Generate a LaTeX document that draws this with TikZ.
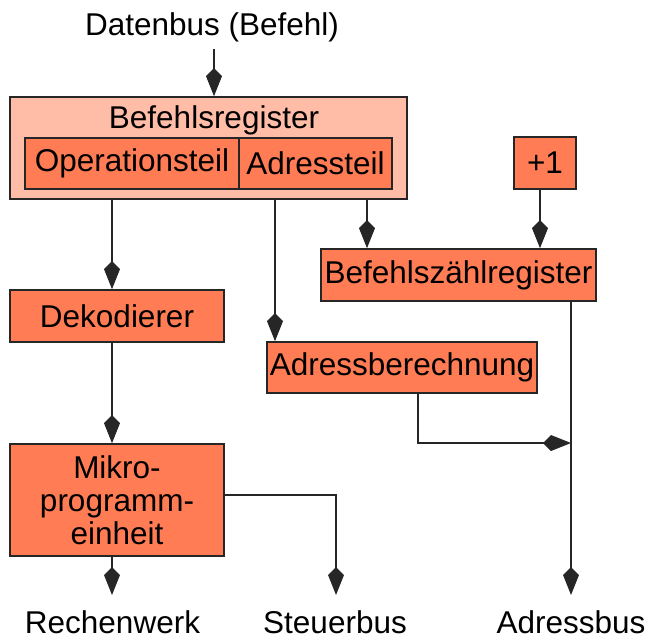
\documentclass[tikz,border=0pt]{standalone}
\usepackage{fontspec}
\setmainfont{Liberation Sans}
\usetikzlibrary{arrows.meta}
\definecolor{boxdark}{RGB}{255,124,84}
\definecolor{boxlight}{RGB}{255,188,166}
\tikzset{
  every node/.style={font=\fontsize{31.5}{33}\selectfont, inner sep=0pt},
  box/.style={draw=black!85, line width=1.6pt, fill=boxdark, rectangle, align=center},
  outerbox/.style={draw=black!85, line width=1.6pt, fill=boxlight, rectangle},
  label text/.style={anchor=base},
  conn/.style={draw=black!85, line width=1.6pt},
  kitearrow/.style={conn, -{Kite[length=28pt,width=16pt,inset=8pt]}}
}
\begin{document}
\begin{tikzpicture}[x=1pt,y=-1pt]
\useasboundingbox (0,0) rectangle (647,638);
% labels
\node[label text] (db) at (212,35) {Datenbus (Befehl)};
\node[label text] (rw) at (112.5,633) {Rechenwerk};
\node[label text] (sb) at (335,633) {Steuerbus};
\node[label text] (ab) at (571,633) {Adressbus};
% boxes
\node[outerbox, minimum width=397pt, minimum height=102pt] (br) at (208.5,148) {};
\node[label text] (brtitle) at (214,128) {Befehlsregister};
\node[box, minimum width=214pt, minimum height=51pt] (op) at (132,163.5) {Operationsteil};
\node[box, minimum width=153pt, minimum height=51pt] (adr) at (315.5,163.5) {Adressteil};
\node[box, minimum width=62pt, minimum height=52pt] (p1) at (545,163) {+1};
\node[box, minimum width=275pt, minimum height=52pt] (bzr) at (458.5,275) {Befehlszählregister};
\node[box, minimum width=214pt, minimum height=52pt] (dek) at (117,316) {Dekodierer};
\node[box, minimum width=270pt, minimum height=51pt] (adb) at (402,367.5) {Adressberechnung};
\node[box, minimum width=214pt, minimum height=112pt] (mpe) at (117,500) {Mikro-\\programm-\\einheit};
% connector ends
\coordinate (dbout) at (214,49);
\coordinate (rwin) at (112,595);
\coordinate (sbin) at (336,595);
\coordinate (abin) at (571,595);
\coordinate (join) at (571,443);
% connectors
\draw[kitearrow] (dbout) -- (dbout |- br.north);
\draw[kitearrow] (112,0 |- br.south) -- (112,0 |- dek.north);
\draw[kitearrow] (275,0 |- br.south) -- (275,0 |- adb.north);
\draw[kitearrow] (367,0 |- br.south) -- (367,0 |- bzr.north);
\draw[kitearrow] (540,0 |- p1.south) -- (540,0 |- bzr.north);
\draw[kitearrow] (571,0 |- bzr.south) -- (abin);
\draw[kitearrow] (418,0 |- adb.south) |- (join);
\draw[kitearrow] (112,0 |- dek.south) -- (112,0 |- mpe.north);
\draw[kitearrow] (112,0 |- mpe.south) -- (rwin);
\draw[kitearrow] (mpe.east |- 0,495) -| (sbin);
\end{tikzpicture}
\end{document}
